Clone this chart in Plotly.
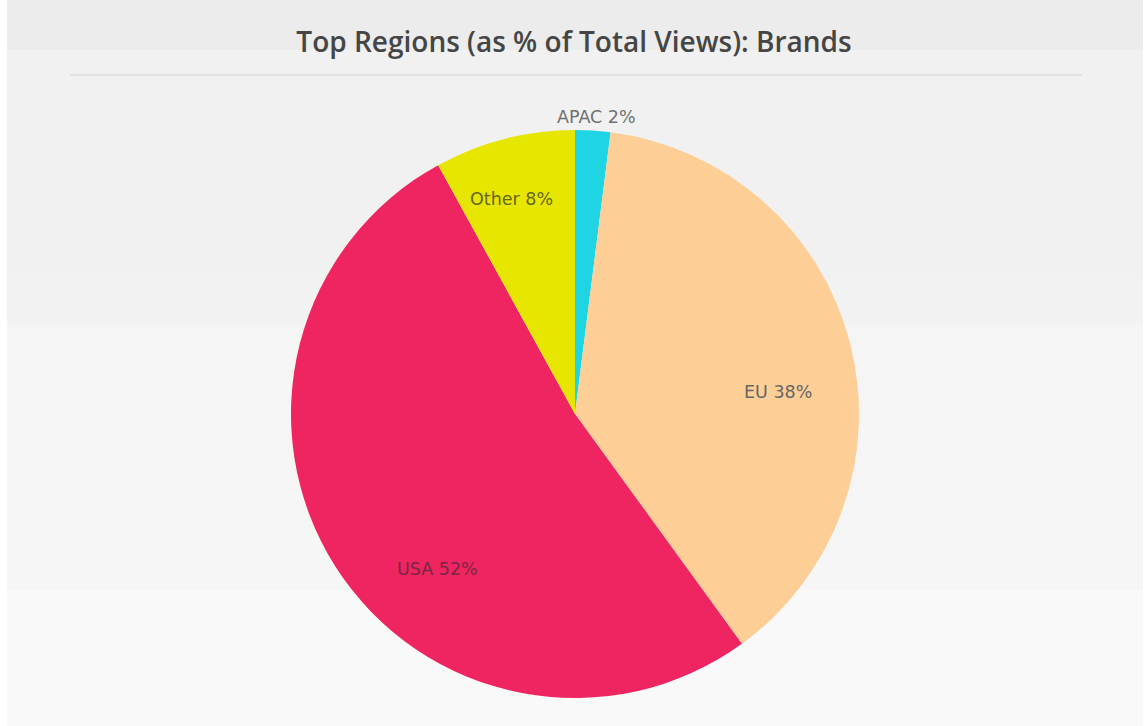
import math
import plotly.graph_objects as go

# Share of total views by region (percent)
regions = ["APAC", "EU", "USA", "Other"]
shares = [2, 38, 52, 8]
slice_colors = ["#1fd5e3", "#fdce96", "#ee2560", "#e6e600"]
label_colors = ["#707070", "#666666", "#7a2645", "#66661a"]
# Label placement: distance from the centre (fraction of radius) and a
# small angular nudge (degrees) away from each slice's mid-angle
label_radius = [1.05, 0.72, 0.73, 0.79]
label_nudge = [0.5, 8.2, -16.0, -2.0]

W, H = 1146, 726
CX, CY, R = 575, 414, 284  # pie centre and radius in pixels

# Soft horizontal background bands (top y, bottom y, fill)
bands = [
    (0, 50, "#ececec"),
    (50, 278, "#f1f1f1"),
    (278, 324, "#f2f2f2"),
    (324, 530, "#f5f5f5"),
    (530, 590, "#f6f6f6"),
    (590, 726, "#f9f9f9"),
]

shapes = []
for y0, y1, c in bands:
    shapes.append(dict(type="rect", xref="paper", yref="paper",
                       x0=7 / W, x1=1143 / W, y0=1 - y1 / H, y1=1 - y0 / H,
                       fillcolor=c, line=dict(width=0), layer="below"))
# Divider under the title
shapes.append(dict(type="line", xref="paper", yref="paper",
                   x0=70 / W, x1=1082 / W, y0=1 - 75 / H, y1=1 - 75 / H,
                   line=dict(color="#dcdcdc", width=1.5), layer="below"))

fig = go.Figure(go.Pie(
    labels=regions,
    values=shares,
    sort=False,
    direction="clockwise",
    rotation=0,
    marker=dict(colors=slice_colors, line=dict(width=0)),
    textinfo="none",
    domain=dict(x=[(CX - R) / W, (CX + R) / W],
                y=[1 - (CY + R) / H, 1 - (CY - R) / H]),
    showlegend=False,
    hoverinfo="label+percent",
))

# Slice labels placed around each slice's mid-angle (clockwise from 12 o'clock)
total = sum(shares)
annotations = []
start = 0.0
for name, v, col, rf, nd in zip(regions, shares, label_colors, label_radius, label_nudge):
    mid = (start + v / 2) / total * 2 * math.pi + math.radians(nd)
    start += v
    px = CX + rf * R * math.sin(mid)
    py = CY - rf * R * math.cos(mid)
    annotations.append(dict(
        x=px / W, y=1 - py / H, xref="paper", yref="paper",
        text=f"{name} {v}%", showarrow=False,
        xanchor="center", yanchor="middle",
        font=dict(family="DejaVu Sans", size=17.5, color=col),
    ))

fig.update_layout(
    width=W, height=H,
    margin=dict(l=0, r=0, t=0, b=0),
    paper_bgcolor="#ffffff",
    plot_bgcolor="#ffffff",
    shapes=shapes,
    annotations=annotations,
    title=dict(text="Top Regions (as % of Total Views): Brands",
               x=574 / W, xanchor="center", y=1 - 42 / H, yanchor="middle",
               font=dict(family="Open Sans", size=28, color="#454545", weight=600)),
)

fig.write_html("out.html")
